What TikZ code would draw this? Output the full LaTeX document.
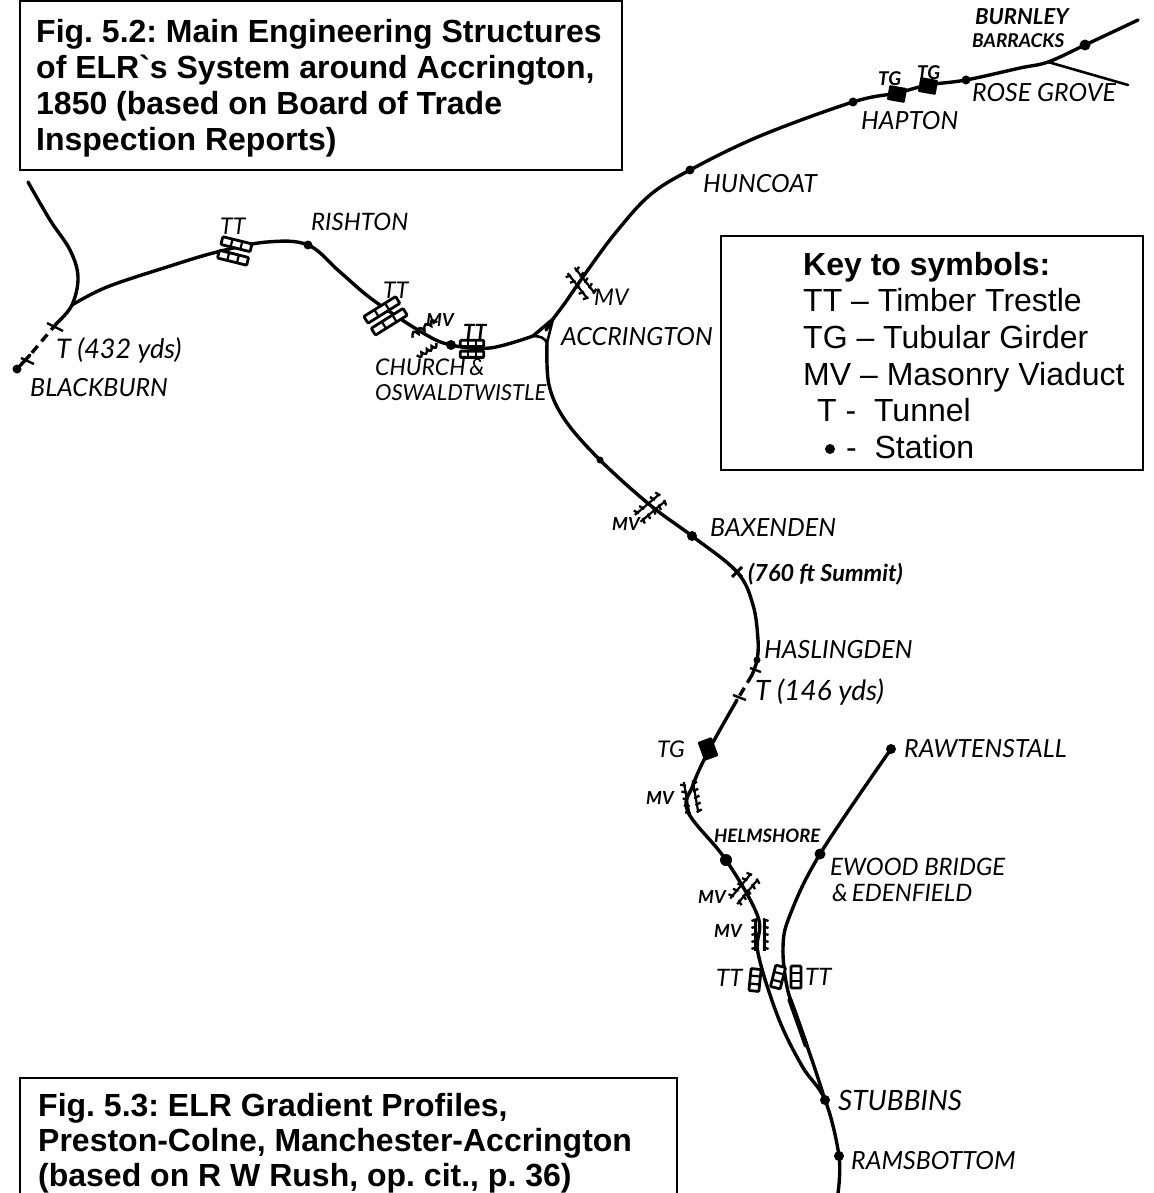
\documentclass[tikz,border=0pt]{standalone}
\usepackage{fontspec}
\setmainfont{Liberation Sans}
\newfontfamily\arialfont{Liberation Sans}
\newfontfamily\handfont{Lato}
\usetikzlibrary{calc}
\tikzset{
  rail/.style={line width=3.4pt,line cap=round,line join=round},
  thinrail/.style={line width=2.6pt,line cap=round,line join=round},
  tunnel/.style={line width=3.4pt,dash pattern=on 9pt off 6pt},
  stn/.style={circle,fill=black,inner sep=0pt,minimum size=9pt},
  girder/.style={fill=black,rounded corners=1pt,inner sep=0pt,minimum width=18pt,minimum height=15pt},
  infobox/.style={draw=black,line width=1.6pt,fill=white},
  boxtext/.style={font=\arialfont\frenchspacing\fontsize{32}{#1}\selectfont\bfseries,align=left,anchor=north west,inner sep=0pt},
  keytext/.style={font=\arialfont\frenchspacing\fontsize{32}{36}\selectfont,anchor=base west,inner sep=0pt},
  lab/.style={font=\handfont\itshape\fontsize{#1}{#1}\selectfont,anchor=west,inner sep=0pt,text=black},
  lab/.default=25,
  smalllab/.style={font=\handfont\itshape\bfseries\fontsize{#1}{#1}\selectfont,anchor=west,inner sep=0pt,text=black},
  smalllab/.default=20,
  pics/trestle/.style={code={
    \foreach \yy in {-10,4}{
      \draw[line width=2.8pt,fill=white,rounded corners=1pt] (-15,\yy) rectangle (15,\yy+8);
      \draw[line width=2.2pt] (-5,\yy) -- (-5,\yy+8) (5,\yy) -- (5,\yy+8);
    }}},
  pics/trestlebar/.style={code={
      \draw[line width=2.8pt,fill=white,rounded corners=1pt] (-5,-11) rectangle (5,11);
      \draw[line width=2.2pt] (-5,-4) -- (5,-4) (-5,4) -- (5,4);
    }},
  pics/viaduct/.style={code={
    \foreach \xx in {-14,-7,0,7,14}{
      \draw[line width=2.3pt] (\xx,-8.5) -- (\xx+2,-3) (\xx+2,3) -- (\xx,8.5);
    }
    \draw[line width=2.2pt] (-16,-4.5) -- (16,-4.5) (-16,4.5) -- (16,4.5);
    }},
  pics/onesideviaduct/.style={code={
    \draw[line width=2.4pt] (-15,-5) .. controls (-12,-11) and (-10,-11) .. (-8,-5)
       .. controls (-5,-11) and (-3,-11) .. (-1,-5) .. controls (2,-11) and (4,-11) .. (7,-5)
       .. controls (9,-11) and (11,-11) .. (14,-5);
    }}
}
\begin{document}
\begin{tikzpicture}[x=1pt,y=-1pt]
\useasboundingbox (0,0) rectangle (1153,1193);
\fill[white] (0,0) rectangle (1153,1193);
% stations
\node[stn,minimum size=9pt] (blackburn) at (17,369) {};
\node[stn,minimum size=9pt] (rishton) at (308,245) {};
\node[stn,minimum size=10pt] (church) at (451,345) {};
\node[stn,minimum size=9pt] (huncoat) at (690,170) {};
\node[stn,minimum size=9pt] (hapton0) at (853,102) {};
\node[stn,minimum size=9pt] (hapton) at (966,80) {};
\node[stn,minimum size=11pt] (burnley) at (1085,45) {};
\node[stn,minimum size=7pt] (midsouth) at (600,460) {};
\node[stn,minimum size=10pt] (baxenden) at (692,536) {};
\node[stn,minimum size=7pt] (haslingden) at (757,660) {};
\node[stn,minimum size=12pt] (helmshore) at (726,860) {};
\node[stn,minimum size=11pt] (ewood) at (820,854) {};
\node[stn,minimum size=10pt] (rawtenstall) at (891,749) {};
\node[stn,minimum size=10pt] (stubbins) at (825,1100) {};
\node[stn,minimum size=10pt] (ramsbottom) at (839,1156) {};
\coordinate (nwend) at (28,182);
\coordinate (jn) at (72,305);
\coordinate (tw) at (57,323);
\coordinate (te) at (30,355);
\coordinate (triw) at (533,336);
\coordinate (trin) at (553,319);
\coordinate (tris) at (547,343);
\coordinate (summit) at (737,572);
\coordinate (tn) at (752,675);
\coordinate (ts) at (737,700);
\coordinate (jr) at (1048,62);
\coordinate (rg) at (1128,85);
\coordinate (ne) at (1138,20);
\coordinate (south) at (838,1193);
% lines
\draw[rail] plot[smooth,tension=.6] coordinates {(nwend) (50,220) (70,250) (78,277) (jn) (tw)};
\draw[rail] plot[smooth,tension=.6] coordinates {(jn) (107,287) (167,267) (217,252) (267,242) (rishton) (340,272) (373,300) (423,333) (church) (490,348) (triw)};
\draw[tunnel] (tw) -- (te);
\draw[rail] (te) -- (blackburn);
\draw[line width=2.4pt] (47,323) -- (63,331) (21,358) -- (34,364);
\draw[rail] (triw) -- (trin);
\draw[rail,fill=black] (trin) -- (546,330) -- (553,319);
\draw[thinrail] (triw) .. controls (540,336) and (545,338) .. (tris) -- (trin);
\draw[rail] (trin) -- (565,303);
\draw[rail] plot[smooth,tension=.6] coordinates {(565,303) (590,267) (617,231) (650,195) (huncoat) (760,136) (hapton0) (897,93) (928,85) (hapton) (1020,68) (jr) (burnley) (ne)};
\draw[thinrail] (jr) -- (rg);
\draw[rail] plot[smooth,tension=.6] coordinates {(tris) (549,385) (565,420) (midsouth) (650,505) (baxenden) (summit) (753,605) (758,640) (haslingden) (tn)};
\draw[tunnel] (tn) -- (ts);
\draw[line width=2.4pt] (750,668) -- (761,672) (733,695) -- (746,700);
\draw[rail] plot[smooth,tension=.6] coordinates {(ts) (710,748) (693,785) (688,812) (helmshore) (758,917) (758,953) (778,1017) (802,1066) (stubbins) (ramsbottom) (south)};
\draw[rail] plot[smooth,tension=.6] coordinates {(rawtenstall) (ewood) (790,915) (783,947) (787,987) (797,1017) (814,1066) (stubbins)};
\draw[line width=5pt,line cap=round] (790,1000) -- (806,1045);
% summit cross
\draw[line width=3pt] (732,567) -- (742,577) (742,567) -- (732,577);
% girders
\node[girder,rotate=-10] (tgA) at (897,94) {};
\node[girder,rotate=-10] (tgB) at (928,86) {};
\node[girder,rotate=20,minimum height=20pt,minimum width=15pt] (tgC) at (708,749) {};
% trestles
\pic[rotate=-14] at (235,250) {trestle};
\pic[rotate=32,xscale=1.25] at (385,315) {trestle};
\pic[scale=.78] at (472,348) {trestle};
\pic[rotate=-6] at (755,980) {trestlebar};
\pic[rotate=-14] at (778,977) {trestlebar};
\pic[rotate=0] at (796,977) {trestlebar};
% viaducts
\pic[rotate=-52] at (581,283) {viaduct};
\pic[rotate=40] at (650,508) {viaduct};
\pic[rotate=-80] at (691,797) {viaduct};
\pic[rotate=50] at (744,889) {viaduct};
\pic[rotate=90] at (760,935) {viaduct};
\pic[rotate=32] at (428,334) {onesideviaduct};
\pic[rotate=212,scale=.8] at (424,346) {onesideviaduct};
% boxes
\draw[infobox] (20,1) rectangle (622,170);
\draw[infobox] (721,236) rectangle (1143,470);
\draw[infobox] (20,1193) -- (20,1078) -- (677,1078) -- (677,1193);
\node[boxtext=36] (fig52) at (36,19) {Fig. 5.2: Main Engineering Structures\\of ELR`s System around Accrington,\\1850 (based on Board of Trade\\Inspection Reports)};
\node[boxtext=35] (fig53) at (38,1093) {Fig. 5.3: ELR Gradient Profiles,\\Preston-Colne, Manchester-Accrington\\(based on R W Rush, op. cit., p. 36)};
\node[keytext,font=\arialfont\fontsize{32}{36}\selectfont\bfseries] (k0) at (803,275) {Key to symbols:};
\node[keytext] (k1) at (803,311) {TT – Timber Trestle};
\node[keytext] (k2) at (803,348) {TG – Tubular Girder};
\node[keytext] (k3) at (803,385) {MV – Masonry Viaduct};
\node[keytext] (k4) at (817,421) {T -\ \ Tunnel};
\node[stn,minimum size=10pt] (k5dot) at (830,449) {};
\node[keytext] (k5) at (846,458) {-\ \ Station};
% labels
\node[lab=24] (l1) at (311,222) {RISHTON};
\node[lab] (l2) at (703,184) {HUNCOAT};
\node[lab] (l3) at (861,121) {HAPTON};
\node[lab] (l4) at (972,93) {ROSE GROVE};
\node[smalllab=22] (l5) at (975,17) {BURNLEY};
\node[smalllab=19] (l6) at (972,41) {BARRACKS};
\node[smalllab=19] (l7) at (878,79) {TG};
\node[smalllab=19] (l8) at (917,73) {TG};
\node[lab=27] (l9) at (56,350) {T (432 yds)};
\node[lab] (l10) at (30,388) {BLACKBURN};
\node[lab=23] (l11) at (375,367) {CHURCH\,\&};
\node[lab=22] (l12) at (375,393) {OSWALDTWISTLE};
\node[lab] (l13) at (561,337) {ACCRINGTON};
\node[lab=23] (l14) at (594,297) {MV};
\node[lab=23] (l15) at (383,290) {TT};
\node[smalllab=18] (l16) at (426,320) {MV};
\node[smalllab=21] (l17) at (463,332) {TT};
\node[smalllab=18] (l18) at (612,524) {MV};
\node[lab] (l19) at (710,528) {BAXENDEN};
\node[smalllab=23.5] (l20) at (748,574) {(760 ft Summit)};
\node[lab] (l21) at (764,650) {HASLINGDEN};
\node[lab=28] (l22) at (755,692) {T (146 yds)};
\node[lab=23] (l23) at (220,226) {TT};
\node[lab=23] (l24) at (657,749) {TG};
\node[smalllab=18] (l25) at (646,798) {MV};
\node[smalllab=18.5] (l26) at (714,836) {HELMSHORE};
\node[smalllab=18] (l27) at (698,897) {MV};
\node[smalllab=18] (l28) at (714,931) {MV};
\node[lab=24] (l29) at (716,978) {TT};
\node[lab=24] (l30) at (805,977) {TT};
\node[lab] (l31) at (904,749) {RAWTENSTALL};
\node[lab=24] (l32) at (830,867) {EWOOD BRIDGE};
\node[lab=24] (l33) at (832,893) {\&\,EDENFIELD};
\node[lab=28] (l34) at (838,1100) {STUBBINS};
\node[lab] (l35) at (851,1161) {RAMSBOTTOM};
\end{tikzpicture}
\end{document}
